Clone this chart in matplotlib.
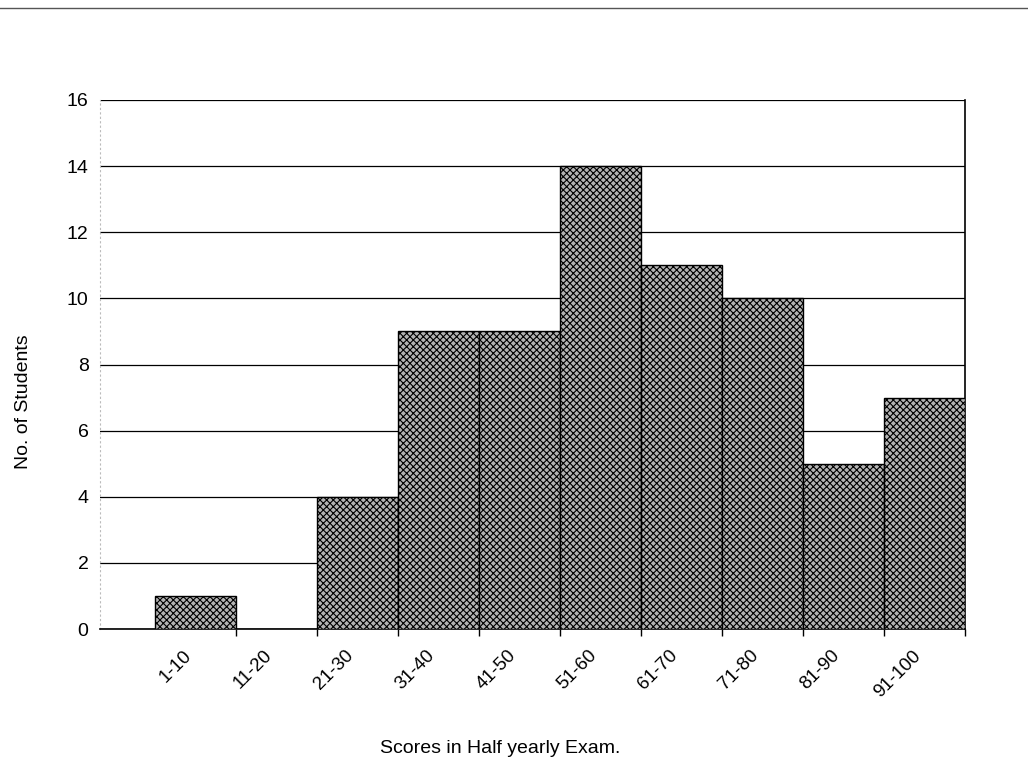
import matplotlib
matplotlib.use("Agg")
import matplotlib.pyplot as plt
from matplotlib.lines import Line2D
from matplotlib.transforms import ScaledTranslation
import numpy as np

score_ranges = ["1-10", "11-20", "21-30", "31-40", "41-50",
                "51-60", "61-70", "71-80", "81-90", "91-100"]
num_students = [1, 0, 4, 9, 9, 14, 11, 10, 5, 7]
y_ticks = [0, 2, 4, 6, 8, 10, 12, 14, 16]


def plot_histogram(fig, ax):
    positions = np.arange(len(score_ranges))
    ax.bar(positions, num_students, width=1.0, color="#b4b4b4", edgecolor="black",
           linewidth=1.0, hatch="xxxxx", zorder=3)

    ax.set_xlim(-1.18, len(score_ranges) - 0.5)
    ax.set_ylim(0, 16)
    ax.set_yticks(y_ticks)
    ax.yaxis.grid(True, color="black", linewidth=0.9, zorder=0)
    ax.tick_params(axis="y", length=0, pad=8, labelsize=14)

    # ticks sit on the bar edges, labels under the bar centres
    ax.set_xticks(positions + 0.5)
    ax.set_xticklabels([])
    ax.tick_params(axis="x", which="major", length=5, width=1, direction="out")
    ax.set_xticks(positions, minor=True)
    ax.set_xticklabels(score_ranges, minor=True, rotation=45, ha="right",
                       va="top", rotation_mode="anchor", fontsize=13.5)
    ax.tick_params(axis="x", which="minor", length=0, pad=13)
    shift = ScaledTranslation(-9 / 72, 0, fig.dpi_scale_trans)
    for label in ax.get_xticklabels(minor=True):
        label.set_transform(label.get_transform() + shift)

    ax.set_xlabel("Scores in Half yearly Exam.", fontsize=14)
    ax.xaxis.set_label_coords(0.463, -0.21)
    ax.set_ylabel("No. of Students", fontsize=14)
    ax.yaxis.set_label_coords(-0.078, 0.43)

    ax.spines["top"].set_visible(False)
    ax.spines["left"].set_color("#bbbbbb")
    ax.spines["left"].set_linestyle((0, (1, 3)))
    ax.spines["right"].set_linewidth(1.2)
    ax.spines["bottom"].set_linewidth(1.2)


def main():
    plt.rcParams["font.family"] = ["Liberation Sans", "DejaVu Sans"]
    plt.rcParams["hatch.linewidth"] = 0.8
    fig = plt.figure(figsize=(10.28, 7.69), dpi=100)
    ax = fig.add_axes([0.097, 0.182, 0.842, 0.688])
    plot_histogram(fig, ax)

    # rule across the top of the page
    fig.add_artist(Line2D([0.0, 1.0], [0.989, 0.989], color="#555555",
                          linewidth=1.0, transform=fig.transFigure))

    fig.savefig("out.png", dpi=100, facecolor="white")


if __name__ == "__main__":
    main()
